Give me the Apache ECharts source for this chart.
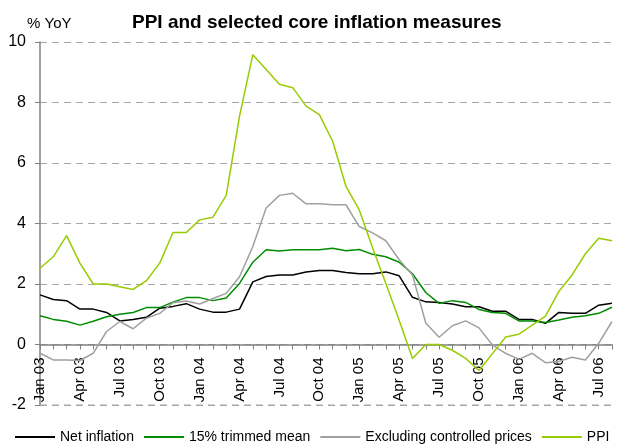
<!DOCTYPE html>
<html>
<head>
<meta charset="utf-8">
<script src="https://cdn.jsdelivr.net/npm/echarts@6/dist/echarts.min.js"></script>
<style>
  html, body { margin: 0; padding: 0; background: #fff; }
  #chart { width: 622px; height: 446px; }
</style>
</head>
<body>
<div id="chart"></div>
<script>
// monthly, Jan 03 .. Aug 06
const months = ['Jan','Feb','Mar','Apr','May','Jun','Jul','Aug','Sep','Oct','Nov','Dec'];
const categories = [];
for (let y = 3; y <= 6; y++) {
  for (let m = 0; m < 12; m++) {
    if (y === 6 && m > 7) break;
    categories.push(months[m] + ' 0' + y);
  }
}

const netInflation = [1.64,1.49,1.45,1.17,1.17,1.06,0.78,0.83,0.9,1.2,1.26,1.35,
  1.17,1.07,1.07,1.17,2.07,2.25,2.3,2.3,2.4,2.45,2.45,2.38,2.34,2.34,2.4,2.27,
  1.56,1.41,1.39,1.34,1.25,1.25,1.1,1.1,0.83,0.83,0.7,1.06,1.03,1.03,1.3,1.36];
const trimmedMean = [0.95,0.83,0.77,0.64,0.77,0.92,1.0,1.06,1.22,1.22,1.4,1.55,
  1.55,1.45,1.54,2.02,2.72,3.13,3.09,3.13,3.13,3.13,3.18,3.1,3.14,2.98,2.9,2.72,
  2.34,1.72,1.36,1.45,1.39,1.16,1.06,1.03,0.78,0.78,0.73,0.81,0.9,0.95,1.03,1.23];
const exclControlled = [-0.29,-0.51,-0.51,-0.53,-0.29,0.43,0.76,0.52,0.87,1.03,1.38,1.44,
  1.34,1.52,1.69,2.24,3.24,4.51,4.93,5.0,4.65,4.65,4.62,4.62,3.9,3.69,3.43,2.8,
  2.3,0.71,0.24,0.62,0.78,0.55,-0.01,-0.29,-0.49,-0.29,-0.6,-0.56,-0.42,-0.51,0.04,0.76];
const ppi = [2.52,2.9,3.6,2.69,2.0,2.0,1.91,1.82,2.11,2.69,3.7,3.7,
  4.12,4.21,4.93,7.55,9.58,9.09,8.6,8.49,7.88,7.6,6.72,5.23,4.45,3.2,2.02,0.8,
  -0.46,0,0,-0.19,-0.46,-0.86,-0.31,0.25,0.34,0.64,0.94,1.75,2.3,3.0,3.51,3.43];

const font = 'Liberation Sans';
const yMin = -2, yMax = 10;
const gridTop = 42, gridBottom = 41, chartH = 446;
// pull the category axis (line + labels) up to the zero line
const zeroOffset = -(0 - yMin) / (yMax - yMin) * (chartH - gridTop - gridBottom);
const gridColor = '#a6a6a6';

const chart = echarts.init(document.getElementById('chart'));

function line(name, data, color) {
  return {
    name: name, type: 'line', data: data,
    symbol: 'none', smooth: false, clip: false,
    lineStyle: { color: color, width: 1.5 },
    itemStyle: { color: color }
  };
}

// bottom edge gridline at -2 (the split line there doesn't show)
const bottomLine = categories.map(() => yMin);

chart.setOption({
  animation: false,
  textStyle: { fontFamily: font, color: '#000' },
  title: [
    { text: 'PPI and selected core inflation measures', left: 127, top: 8,
      textStyle: { fontFamily: font, fontSize: 19, fontWeight: 'bold', color: '#000' } },
    { text: '% YoY', left: 22, top: 11,
      textStyle: { fontFamily: font, fontSize: 15, fontWeight: 'normal', color: '#000' } }
  ],
  grid: { left: 40, right: 10, top: gridTop, bottom: gridBottom, containLabel: false, outerBoundsMode: 'none' },
  legend: {
    bottom: 2, left: 15, padding: 0,
    icon: 'rect', itemWidth: 40, itemHeight: 2, itemGap: 10,
    textStyle: { fontFamily: font, fontSize: 14, color: '#000' },
    data: ['Net inflation', '15% trimmed mean', 'Excluding controlled prices', 'PPI']
  },
  xAxis: {
    type: 'category', data: categories, boundaryGap: false,
    offset: zeroOffset,
    axisLine: { onZero: false, lineStyle: { color: '#808080', width: 1.5 } },
    axisTick: { interval: 0, length: 5, lineStyle: { color: '#808080' } },
    axisLabel: { interval: 2, rotate: 90, margin: 13, fontSize: 15, fontFamily: font, color: '#000' },
    splitLine: { show: false }
  },
  yAxis: {
    type: 'value', min: yMin, max: yMax, interval: 2,
    axisLine: { show: true, lineStyle: { color: '#808080', width: 1.5 } },
    axisTick: { show: true, length: 5, lineStyle: { color: '#808080' } },
    axisLabel: { fontSize: 16, margin: 14, fontFamily: font, color: '#000' },
    splitLine: { lineStyle: { color: gridColor, type: [7, 5], width: 1 } }
  },
  series: [
    {
      name: 'gridBottom', type: 'line', data: bottomLine, symbol: 'none',
      silent: true, clip: false, z: 0,
      lineStyle: { color: gridColor, type: [7, 5], width: 1 }
    },
    line('Net inflation', netInflation, '#000000'),
    line('15% trimmed mean', trimmedMean, '#008c00'),
    line('Excluding controlled prices', exclControlled, '#a0a0a0'),
    line('PPI', ppi, '#99cc00')
  ]
});
</script>
</body>
</html>
